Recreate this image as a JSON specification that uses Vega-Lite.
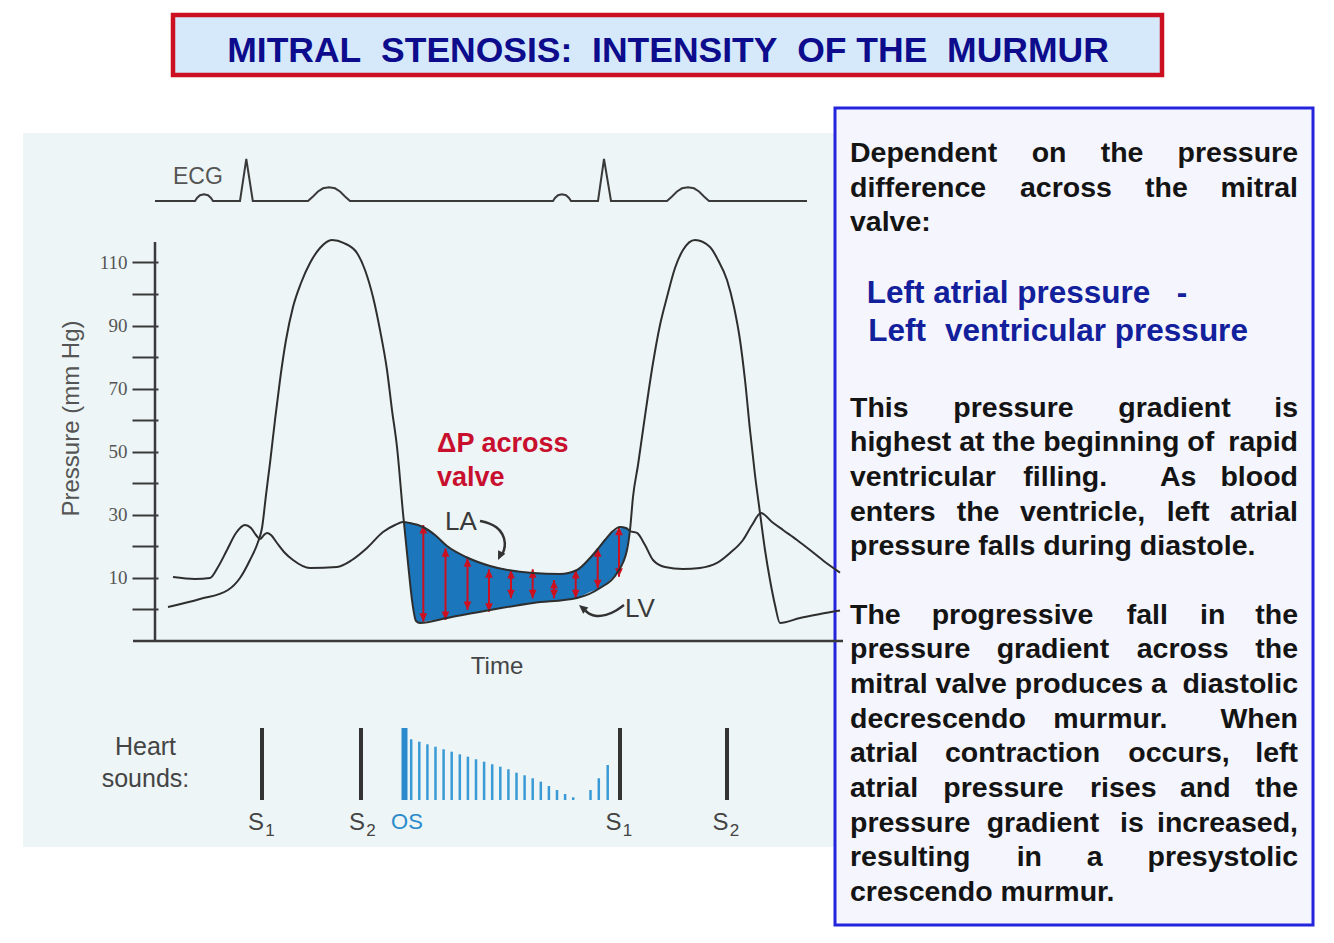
{
  "$schema": "https://vega.github.io/schema/vega-lite/v6.json",
  "width": 1334,
  "height": 943,
  "autosize": {"type": "none"},
  "padding": 0,
  "background": "#ffffff",
  "config": {"view": {"stroke": null}},
  "datasets": {
    "bg": [{"t": -264, "t2": 1470, "p": 151.03, "p2": -75.28}],
    "titlebox": [{"t": 36, "t2": 2014, "p": 188.43, "p2": 169.41}],
    "panel": [{"t": 1360, "t2": 2316, "p": 158.95, "p2": -100.0}],
    "gradient": [
      {"t": 498, "p": 27.73, "p2": 27.73},
      {"t": 504, "p": 27.58, "p2": 17.91},
      {"t": 510, "p": 27.42, "p2": 9.03},
      {"t": 516, "p": 27.10, "p2": 1.43},
      {"t": 522, "p": 26.78, "p2": -3.65},
      {"t": 530, "p": 26.47, "p2": -4.28},
      {"t": 536, "p": 26.15, "p2": -3.96},
      {"t": 560, "p": 23.61, "p2": -3.33},
      {"t": 584, "p": 20.13, "p2": -2.69},
      {"t": 622, "p": 16.64, "p2": -1.43},
      {"t": 670, "p": 13.79, "p2": -0.16},
      {"t": 714, "p": 12.52, "p2": 0.95},
      {"t": 756, "p": 11.57, "p2": 2.06},
      {"t": 800, "p": 11.25, "p2": 2.85},
      {"t": 844, "p": 12.52, "p2": 3.65},
      {"t": 870, "p": 16.32, "p2": 5.55},
      {"t": 890, "p": 20.44, "p2": 6.81},
      {"t": 910, "p": 23.93, "p2": 9.35},
      {"t": 924, "p": 25.20, "p2": 11.57},
      {"t": 934, "p": 25.83, "p2": 14.74},
      {"t": 944, "p": 25.83, "p2": 18.86},
      {"t": 950, "p": 24.88, "p2": 24.88}
    ],
    "gradArrows": [
      {"t": 536.6, "p": 26.78, "p2": -3.87},
      {"t": 581, "p": 19.40, "p2": -3.33},
      {"t": 625, "p": 16.23, "p2": -0.16},
      {"t": 668, "p": 12.74, "p2": -0.70},
      {"t": 712, "p": 12.52, "p2": 3.55},
      {"t": 755.4, "p": 12.74, "p2": 3.55},
      {"t": 798, "p": 9.35, "p2": 3.55},
      {"t": 841.4, "p": 12.52, "p2": 3.55},
      {"t": 885.4, "p": 19.40, "p2": 6.72},
      {"t": 928, "p": 26.24, "p2": 10.40}
    ],
    "headTop": [
      {"t": 536.6, "p": 26.78}, {"t": 581, "p": 19.40}, {"t": 625, "p": 16.23}, {"t": 668, "p": 12.74},
      {"t": 712, "p": 12.52}, {"t": 755.4, "p": 12.74}, {"t": 798, "p": 9.35}, {"t": 841.4, "p": 12.52},
      {"t": 885.4, "p": 19.40}, {"t": 928, "p": 26.24}
    ],
    "headBot": [
      {"t": 536.6, "p": -3.87}, {"t": 581, "p": -3.33}, {"t": 625, "p": -0.16}, {"t": 668, "p": -0.70},
      {"t": 712, "p": 3.55}, {"t": 755.4, "p": 3.55}, {"t": 798, "p": 3.55}, {"t": 841.4, "p": 3.55},
      {"t": 885.4, "p": 6.72}, {"t": 928, "p": 10.40}
    ],
    "pressure": [
      {"curve": "LV", "t": 26, "p": 0.79}, {"curve": "LV", "t": 90, "p": 3.33}, {"curve": "LV", "t": 146, "p": 6.18},
      {"curve": "LV", "t": 170, "p": 9.98}, {"curve": "LV", "t": 190, "p": 15.69}, {"curve": "LV", "t": 206, "p": 21.39},
      {"curve": "LV", "t": 214, "p": 25.83}, {"curve": "LV", "t": 222, "p": 36.29}, {"curve": "LV", "t": 230, "p": 46.43},
      {"curve": "LV", "t": 240, "p": 60.06}, {"curve": "LV", "t": 250, "p": 72.74}, {"curve": "LV", "t": 262, "p": 85.42},
      {"curve": "LV", "t": 276, "p": 95.88}, {"curve": "LV", "t": 292, "p": 103.49}, {"curve": "LV", "t": 310, "p": 109.83},
      {"curve": "LV", "t": 330, "p": 114.58}, {"curve": "LV", "t": 354, "p": 117.12}, {"curve": "LV", "t": 378, "p": 116.16},
      {"curve": "LV", "t": 404, "p": 113.0}, {"curve": "LV", "t": 420, "p": 107.61}, {"curve": "LV", "t": 436, "p": 99.05},
      {"curve": "LV", "t": 450, "p": 88.59}, {"curve": "LV", "t": 464, "p": 75.91}, {"curve": "LV", "t": 474, "p": 63.23},
      {"curve": "LV", "t": 484, "p": 51.51}, {"curve": "LV", "t": 496, "p": 30.59}, {"curve": "LV", "t": 506, "p": 14.74},
      {"curve": "LV", "t": 514, "p": 3.01}, {"curve": "LV", "t": 522, "p": -3.65}, {"curve": "LV", "t": 530, "p": -4.28},
      {"curve": "LV", "t": 584, "p": -2.69}, {"curve": "LV", "t": 670, "p": -0.16}, {"curve": "LV", "t": 756, "p": 2.06},
      {"curve": "LV", "t": 844, "p": 3.65}, {"curve": "LV", "t": 890, "p": 6.81}, {"curve": "LV", "t": 924, "p": 11.57},
      {"curve": "LV", "t": 944, "p": 18.86}, {"curve": "LV", "t": 950, "p": 25.20}, {"curve": "LV", "t": 956, "p": 35.66},
      {"curve": "LV", "t": 966, "p": 45.80}, {"curve": "LV", "t": 976, "p": 56.89}, {"curve": "LV", "t": 996, "p": 78.13},
      {"curve": "LV", "t": 1010, "p": 90.17}, {"curve": "LV", "t": 1024, "p": 99.05}, {"curve": "LV", "t": 1040, "p": 108.24},
      {"curve": "LV", "t": 1056, "p": 113.95}, {"curve": "LV", "t": 1080, "p": 117.12}, {"curve": "LV", "t": 1110, "p": 114.90},
      {"curve": "LV", "t": 1126, "p": 110.78}, {"curve": "LV", "t": 1144, "p": 104.44}, {"curve": "LV", "t": 1158, "p": 95.88},
      {"curve": "LV", "t": 1170, "p": 85.42}, {"curve": "LV", "t": 1180, "p": 72.74}, {"curve": "LV", "t": 1190, "p": 56.89},
      {"curve": "LV", "t": 1200, "p": 42.63}, {"curve": "LV", "t": 1210, "p": 30.59}, {"curve": "LV", "t": 1220, "p": 18.86},
      {"curve": "LV", "t": 1230, "p": 9.35}, {"curve": "LV", "t": 1240, "p": 1.43}, {"curve": "LV", "t": 1250, "p": -4.28},
      {"curve": "LV", "t": 1290, "p": -2.69}, {"curve": "LV", "t": 1330, "p": -1.43}, {"curve": "LV", "t": 1370, "p": -0.3},
      {"curve": "LA", "t": 36, "p": 10.30}, {"curve": "LA", "t": 80, "p": 9.67}, {"curve": "LA", "t": 110, "p": 9.98},
      {"curve": "LA", "t": 126, "p": 13.47}, {"curve": "LA", "t": 144, "p": 18.86}, {"curve": "LA", "t": 162, "p": 24.25},
      {"curve": "LA", "t": 180, "p": 26.78}, {"curve": "LA", "t": 192, "p": 25.83}, {"curve": "LA", "t": 202, "p": 23.61},
      {"curve": "LA", "t": 210, "p": 22.35}, {"curve": "LA", "t": 218, "p": 23.61}, {"curve": "LA", "t": 224, "p": 24.25},
      {"curve": "LA", "t": 232, "p": 23.61}, {"curve": "LA", "t": 244, "p": 21.08}, {"curve": "LA", "t": 260, "p": 17.91},
      {"curve": "LA", "t": 276, "p": 15.69}, {"curve": "LA", "t": 310, "p": 13.15}, {"curve": "LA", "t": 364, "p": 13.47},
      {"curve": "LA", "t": 394, "p": 15.69}, {"curve": "LA", "t": 424, "p": 19.49}, {"curve": "LA", "t": 456, "p": 24.56},
      {"curve": "LA", "t": 480, "p": 26.78}, {"curve": "LA", "t": 496, "p": 27.73}, {"curve": "LA", "t": 510, "p": 27.42},
      {"curve": "LA", "t": 536, "p": 26.15}, {"curve": "LA", "t": 560, "p": 23.61}, {"curve": "LA", "t": 584, "p": 20.13},
      {"curve": "LA", "t": 622, "p": 16.64}, {"curve": "LA", "t": 670, "p": 13.79}, {"curve": "LA", "t": 756, "p": 11.57},
      {"curve": "LA", "t": 810, "p": 11.25}, {"curve": "LA", "t": 844, "p": 12.52}, {"curve": "LA", "t": 870, "p": 16.32},
      {"curve": "LA", "t": 884, "p": 18.86}, {"curve": "LA", "t": 900, "p": 22.03}, {"curve": "LA", "t": 916, "p": 24.88},
      {"curve": "LA", "t": 930, "p": 26.15}, {"curve": "LA", "t": 942, "p": 25.83}, {"curve": "LA", "t": 950, "p": 24.88},
      {"curve": "LA", "t": 964, "p": 24.25}, {"curve": "LA", "t": 980, "p": 20.44}, {"curve": "LA", "t": 996, "p": 15.69},
      {"curve": "LA", "t": 1020, "p": 13.47}, {"curve": "LA", "t": 1056, "p": 12.84}, {"curve": "LA", "t": 1090, "p": 13.15},
      {"curve": "LA", "t": 1124, "p": 14.74}, {"curve": "LA", "t": 1150, "p": 17.91}, {"curve": "LA", "t": 1176, "p": 22.03},
      {"curve": "LA", "t": 1194, "p": 26.78}, {"curve": "LA", "t": 1212, "p": 30.59}, {"curve": "LA", "t": 1234, "p": 27.73},
      {"curve": "LA", "t": 1256, "p": 25.20}, {"curve": "LA", "t": 1284, "p": 22.03}, {"curve": "LA", "t": 1310, "p": 18.86},
      {"curve": "LA", "t": 1340, "p": 15.06}, {"curve": "LA", "t": 1370, "p": 11.7}
    ],
    "ecg": [
      {"t": 0, "p": 129.48}, {"t": 80, "p": 129.48}, {"t": 84, "p": 130.43}, {"t": 90, "p": 131.31}, {"t": 98, "p": 131.60},
      {"t": 106, "p": 131.31}, {"t": 112, "p": 130.43}, {"t": 116, "p": 129.48}, {"t": 170, "p": 129.48}, {"t": 182.6, "p": 142.79},
      {"t": 195.6, "p": 129.48}, {"t": 306, "p": 129.48}, {"t": 316, "p": 130.90}, {"t": 326, "p": 132.49}, {"t": 336, "p": 133.50},
      {"t": 348, "p": 133.82}, {"t": 360, "p": 133.50}, {"t": 370, "p": 132.49}, {"t": 380, "p": 130.90}, {"t": 390, "p": 129.48},
      {"t": 796, "p": 129.48}, {"t": 800, "p": 130.43}, {"t": 806, "p": 131.31}, {"t": 814, "p": 131.60}, {"t": 822, "p": 131.31},
      {"t": 828, "p": 130.43}, {"t": 832, "p": 129.48}, {"t": 886, "p": 129.48}, {"t": 898, "p": 142.79}, {"t": 912, "p": 129.48},
      {"t": 1024, "p": 129.48}, {"t": 1034, "p": 130.90}, {"t": 1044, "p": 132.49}, {"t": 1054, "p": 133.50}, {"t": 1066, "p": 133.82},
      {"t": 1078, "p": 133.50}, {"t": 1088, "p": 132.49}, {"t": 1098, "p": 130.90}, {"t": 1108, "p": 129.48}, {"t": 1304, "p": 129.48}
    ],
    "yaxisline": [{"t": 0, "p": 116.48, "p2": -9.98}],
    "xaxisline": [{"t": -44, "t2": 1376, "p": -9.98}],
    "sounds": [
      {"sound": "S1", "t": 214, "p": -37.56, "p2": -60.38},
      {"sound": "S2", "t": 412, "p": -37.56, "p2": -60.38},
      {"sound": "S1", "t": 930, "p": -37.56, "p2": -60.38},
      {"sound": "S2", "t": 1144, "p": -37.56, "p2": -60.38}
    ],
    "os": [{"sound": "OS", "t": 499, "p": -37.56, "p2": -60.38}],
    "murmur": [
      {"t": 512.4, "p": -41.14, "p2": -60.38}, {"t": 528.6, "p": -41.90, "p2": -60.38}, {"t": 544.8, "p": -42.73, "p2": -60.38},
      {"t": 561, "p": -43.49, "p2": -60.38}, {"t": 577.2, "p": -44.31, "p2": -60.38}, {"t": 593.4, "p": -45.07, "p2": -60.38},
      {"t": 609.6, "p": -45.90, "p2": -60.38}, {"t": 625.8, "p": -46.66, "p2": -60.38}, {"t": 642, "p": -47.48, "p2": -60.38},
      {"t": 658.2, "p": -48.24, "p2": -60.38}, {"t": 674.4, "p": -49.06, "p2": -60.38}, {"t": 690.6, "p": -49.83, "p2": -60.38},
      {"t": 706.8, "p": -50.65, "p2": -60.38}, {"t": 723, "p": -51.73, "p2": -60.38}, {"t": 739.2, "p": -52.55, "p2": -60.38},
      {"t": 755.4, "p": -53.50, "p2": -60.38}, {"t": 771.6, "p": -54.58, "p2": -60.38}, {"t": 787.8, "p": -55.94, "p2": -60.38},
      {"t": 804, "p": -57.21, "p2": -60.38}, {"t": 820.2, "p": -58.48, "p2": -60.38}, {"t": 836.4, "p": -59.52, "p2": -60.38},
      {"t": 871, "p": -57.21, "p2": -60.38}, {"t": 887.6, "p": -53.50, "p2": -60.38}, {"t": 905.4, "p": -49.29, "p2": -60.38}
    ],
    "curvedArrows": [
      {"a": "LA", "i": 1, "t": 650, "p": 28.05}, {"a": "LA", "i": 2, "t": 668, "p": 27.42}, {"a": "LA", "i": 3, "t": 684, "p": 26.15},
      {"a": "LA", "i": 4, "t": 696, "p": 23.93}, {"a": "LA", "i": 5, "t": 701, "p": 21.0}, {"a": "LA", "i": 6, "t": 698, "p": 18.6},
      {"a": "LA", "i": 7, "t": 694, "p": 17.5},
      {"a": "LV", "i": 1, "t": 938, "p": 1.43}, {"a": "LV", "i": 2, "t": 922, "p": -0.48}, {"a": "LV", "i": 3, "t": 902, "p": -1.90},
      {"a": "LV", "i": 4, "t": 882, "p": -2.22}, {"a": "LV", "i": 5, "t": 868, "p": -1.43}, {"a": "LV", "i": 6, "t": 861, "p": -0.38}
    ],
    "laHead": [{"t": 686, "p": 15.69}],
    "lvHead": [{"t": 848, "p": 1.43}],
    "txtRed": [{"t": 564, "p": 49.92, "w": "ΔP across"}, {"t": 564, "p": 39.30, "w": "valve"}],
    "txtLALV": [{"t": 580, "p": 25.20, "w": "LA"}, {"t": 940, "p": -2.38, "w": "LV"}],
    "txtECG": [{"t": 36, "p": 134.87, "w": "ECG"}],
    "txtTime": [{"t": 684, "p": -20.44, "w": "Time"}],
    "txtPressure": [{"t": -166, "p": 60.54, "w": "Pressure (mm Hg)"}],
    "txtHeart": [{"t": -19, "p": -46.12, "w": "Heart"}, {"t": -19, "p": -56.26, "w": "sounds:"}],
    "txtS": [{"t": 202, "p": -69.89, "w": "S"}, {"t": 404, "p": -69.89, "w": "S"}, {"t": 917, "p": -69.89, "w": "S"}, {"t": 1131, "p": -69.89, "w": "S"}],
    "txtSub": [{"t": 230, "p": -71.8, "w": "1"}, {"t": 432, "p": -71.8, "w": "2"}, {"t": 945, "p": -71.8, "w": "1"}, {"t": 1159, "p": -71.8, "w": "2"}],
    "txtOS": [{"t": 504, "p": -69.57, "w": "OS"}],
    "txtTitle": [{"t": 1026, "p": 173.4, "w": "MITRAL\u00a0 STENOSIS:\u00a0 INTENSITY\u00a0 OF THE\u00a0 MURMUR"}],
    "panelBlue": [
      {"t": 1423.4, "p": 97.24, "w": "Left atrial pressure"},
      {"t": 2043.4, "p": 97.24, "w": "-"},
      {"t": 1426.6, "p": 85.20, "w": "Left"},
      {"t": 1580, "p": 85.20, "w": "ventricular pressure"}
    ],
    "panelL": [
      {"t": 1390, "p": 141.84, "w": "Dependent"}, {"t": 1753.4, "p": 141.84, "w": "on"}, {"t": 1891.4, "p": 141.84, "w": "the"},
      {"t": 1390, "p": 130.87, "w": "difference"}, {"t": 1730, "p": 130.87, "w": "across"}, {"t": 1980, "p": 130.87, "w": "the"},
      {"t": 1390, "p": 119.87, "w": "valve:"},
      {"t": 1390, "p": 61.08, "w": "This"}, {"t": 1596.6, "p": 61.08, "w": "pressure"}, {"t": 1926.6, "p": 61.08, "w": "gradient"},
      {"t": 1390, "p": 50.11, "w": "highest at the beginning of"},
      {"t": 1390, "p": 39.14, "w": "ventricular"}, {"t": 1736.6, "p": 39.14, "w": "filling."}, {"t": 2010, "p": 39.14, "w": "As"},
      {"t": 1390, "p": 28.15, "w": "enters"}, {"t": 1603.4, "p": 28.15, "w": "the"}, {"t": 1730, "p": 28.15, "w": "ventricle,"}, {"t": 2023.4, "p": 28.15, "w": "left"},
      {"t": 1390, "p": 17.18, "w": "pressure falls during diastole."},
      {"t": 1390, "p": -4.53, "w": "The"}, {"t": 1553.4, "p": -4.53, "w": "progressive"}, {"t": 1943.4, "p": -4.53, "w": "fall"}, {"t": 2090, "p": -4.53, "w": "in"},
      {"t": 1390, "p": -15.50, "w": "pressure"}, {"t": 1683.4, "p": -15.50, "w": "gradient"}, {"t": 1963.4, "p": -15.50, "w": "across"},
      {"t": 1390, "p": -26.50, "w": "mitral valve produces a"},
      {"t": 1390, "p": -37.46, "w": "decrescendo"}, {"t": 1796.6, "p": -37.46, "w": "murmur."},
      {"t": 1390, "p": -48.46, "w": "atrial"}, {"t": 1580, "p": -48.46, "w": "contraction"}, {"t": 1946.6, "p": -48.46, "w": "occurs,"},
      {"t": 1390, "p": -59.43, "w": "atrial"}, {"t": 1576.6, "p": -59.43, "w": "pressure"}, {"t": 1870, "p": -59.43, "w": "rises"}, {"t": 2050, "p": -59.43, "w": "and"},
      {"t": 1390, "p": -70.40, "w": "pressure"}, {"t": 1663.4, "p": -70.40, "w": "gradient"}, {"t": 1930, "p": -70.40, "w": "is"},
      {"t": 1390, "p": -81.39, "w": "resulting"}, {"t": 1723.4, "p": -81.39, "w": "in"}, {"t": 1863.4, "p": -81.39, "w": "a"},
      {"t": 1390, "p": -92.36, "w": "crescendo murmur."}
    ],
    "panelR": [
      {"t": 2286, "p": 141.84, "w": "pressure"}, {"t": 2286, "p": 130.87, "w": "mitral"},
      {"t": 2286, "p": 61.08, "w": "is"}, {"t": 2286, "p": 50.11, "w": "rapid"}, {"t": 2286, "p": 39.14, "w": "blood"}, {"t": 2286, "p": 28.15, "w": "atrial"},
      {"t": 2286, "p": -4.53, "w": "the"}, {"t": 2286, "p": -15.50, "w": "the"}, {"t": 2286, "p": -26.50, "w": "diastolic"},
      {"t": 2286, "p": -37.46, "w": "When"}, {"t": 2286, "p": -48.46, "w": "left"}, {"t": 2286, "p": -59.43, "w": "the"},
      {"t": 2286, "p": -70.40, "w": "increased,"}, {"t": 2286, "p": -81.39, "w": "presystolic"}
    ]
  },
  "encoding": {
    "x": {"field": "t", "type": "quantitative", "scale": {"domain": [-310, 2358], "nice": false, "zero": false}, "axis": null},
    "y": {
      "field": "p", "type": "quantitative",
      "scale": {"domain": [-105.71, 193.19], "nice": false, "zero": false},
      "axis": {
        "orient": "left", "offset": -158, "domain": false, "grid": false, "zindex": 2,
        "values": [0, 10, 20, 30, 40, 50, 60, 70, 80, 90, 100, 110],
        "tickSize": 26, "tickWidth": 2, "tickColor": "#3a3a3a",
        "labelExpr": "datum.value % 20 == 10 ? datum.label : ''",
        "labelFont": "Liberation Serif", "labelFontSize": 19, "labelColor": "#555555",
        "labelPadding": 5, "labelOverlap": false, "labelBound": false, "title": null
      }
    }
  },
  "layer": [
    {"data": {"name": "bg"}, "mark": {"type": "rect", "fill": "#edf5f6"}, "encoding": {"x2": {"field": "t2"}, "y2": {"field": "p2"}}},
    {"data": {"name": "titlebox"}, "mark": {"type": "rect", "fill": "#d6e9fb", "stroke": "#cc1022", "strokeWidth": 4.5}, "encoding": {"x2": {"field": "t2"}, "y2": {"field": "p2"}}},
    {"data": {"name": "panel"}, "mark": {"type": "rect", "fill": "#f5f6fd", "stroke": "#2424dc", "strokeWidth": 3}, "encoding": {"x2": {"field": "t2"}, "y2": {"field": "p2"}}},
    {"data": {"name": "gradient"}, "mark": {"type": "area", "interpolate": "monotone", "fill": "#1c76bc", "opacity": 1}, "encoding": {"y2": {"field": "p2"}}},
    {"data": {"name": "gradArrows"}, "mark": {"type": "rule", "color": "#cc1020", "strokeWidth": 2}, "encoding": {"y2": {"field": "p2"}}},
    {"data": {"name": "headTop"}, "mark": {"type": "point", "shape": "M0,0L-1,2.2L1,2.2Z", "filled": true, "size": 60, "color": "#cc1020", "opacity": 1, "strokeWidth": 0}},
    {"data": {"name": "headBot"}, "mark": {"type": "point", "shape": "M0,0L-1,-2.2L1,-2.2Z", "filled": true, "size": 60, "color": "#cc1020", "opacity": 1, "strokeWidth": 0}},
    {"data": {"name": "pressure"}, "mark": {"type": "line", "interpolate": "monotone", "color": "#2e2e2e", "strokeWidth": 2}, "encoding": {"detail": {"field": "curve"}}},
    {"data": {"name": "ecg"}, "mark": {"type": "line", "color": "#3a3a3a", "strokeWidth": 2}},
    {"data": {"name": "yaxisline"}, "mark": {"type": "rule", "color": "#3a3a3a", "strokeWidth": 2.5}, "encoding": {"y2": {"field": "p2"}}},
    {"data": {"name": "xaxisline"}, "mark": {"type": "rule", "color": "#3a3a3a", "strokeWidth": 2.5}, "encoding": {"x2": {"field": "t2"}}},
    {"data": {"name": "sounds"}, "mark": {"type": "rule", "color": "#333333", "strokeWidth": 4, "strokeCap": "butt"}, "encoding": {"y2": {"field": "p2"}}},
    {"data": {"name": "os"}, "mark": {"type": "rule", "color": "#2b8acb", "strokeWidth": 6, "strokeCap": "butt"}, "encoding": {"y2": {"field": "p2"}}},
    {"data": {"name": "murmur"}, "mark": {"type": "rule", "color": "#3a9ad6", "strokeWidth": 2.5, "strokeCap": "butt"}, "encoding": {"y2": {"field": "p2"}}},
    {"data": {"name": "curvedArrows"}, "mark": {"type": "line", "interpolate": "basis", "color": "#333333", "strokeWidth": 2.5}, "encoding": {"detail": {"field": "a"}, "order": {"field": "i", "type": "quantitative"}}},
    {"data": {"name": "laHead"}, "mark": {"type": "point", "shape": "M0,0L-1,-2.2L1,-2.2Z", "filled": true, "size": 64, "angle": 25, "color": "#333333", "opacity": 1, "strokeWidth": 0}},
    {"data": {"name": "lvHead"}, "mark": {"type": "point", "shape": "M0,0L-1,2.2L1,2.2Z", "filled": true, "size": 64, "angle": -50, "color": "#333333", "opacity": 1, "strokeWidth": 0}},
    {"data": {"name": "txtRed"}, "mark": {"type": "text", "align": "left", "baseline": "alphabetic", "font": "Liberation Sans", "fontWeight": "bold", "fontSize": 27, "color": "#c8102e"}, "encoding": {"text": {"field": "w"}}},
    {"data": {"name": "txtLALV"}, "mark": {"type": "text", "align": "left", "baseline": "alphabetic", "font": "Liberation Sans", "fontSize": 26, "color": "#3a3a3a"}, "encoding": {"text": {"field": "w"}}},
    {"data": {"name": "txtECG"}, "mark": {"type": "text", "align": "left", "baseline": "alphabetic", "font": "Liberation Sans", "fontSize": 23, "color": "#555555"}, "encoding": {"text": {"field": "w"}}},
    {"data": {"name": "txtTime"}, "mark": {"type": "text", "align": "center", "baseline": "alphabetic", "font": "Liberation Sans", "fontSize": 24, "color": "#444444"}, "encoding": {"text": {"field": "w"}}},
    {"data": {"name": "txtPressure"}, "mark": {"type": "text", "align": "center", "baseline": "middle", "angle": 270, "font": "Liberation Sans", "fontSize": 24, "color": "#555555"}, "encoding": {"text": {"field": "w"}}},
    {"data": {"name": "txtHeart"}, "mark": {"type": "text", "align": "center", "baseline": "alphabetic", "font": "Liberation Sans", "fontSize": 25, "color": "#444444"}, "encoding": {"text": {"field": "w"}}},
    {"data": {"name": "txtS"}, "mark": {"type": "text", "align": "center", "baseline": "alphabetic", "font": "Liberation Sans", "fontSize": 24, "color": "#444444"}, "encoding": {"text": {"field": "w"}}},
    {"data": {"name": "txtSub"}, "mark": {"type": "text", "align": "center", "baseline": "alphabetic", "font": "Liberation Sans", "fontSize": 17, "color": "#444444"}, "encoding": {"text": {"field": "w"}}},
    {"data": {"name": "txtOS"}, "mark": {"type": "text", "align": "center", "baseline": "alphabetic", "font": "Liberation Sans", "fontSize": 22, "color": "#2b8acb"}, "encoding": {"text": {"field": "w"}}},
    {"data": {"name": "txtTitle"}, "mark": {"type": "text", "align": "center", "baseline": "alphabetic", "font": "Liberation Sans", "fontWeight": "bold", "fontSize": 35.5, "color": "#0c0c8c"}, "encoding": {"text": {"field": "w"}}},
    {"data": {"name": "panelBlue"}, "mark": {"type": "text", "align": "left", "baseline": "alphabetic", "font": "Liberation Sans", "fontWeight": "bold", "fontSize": 31.5, "color": "#12209c"}, "encoding": {"text": {"field": "w"}}},
    {"data": {"name": "panelL"}, "mark": {"type": "text", "align": "left", "baseline": "alphabetic", "font": "Liberation Sans", "fontWeight": "bold", "fontSize": 28.5, "color": "#141414"}, "encoding": {"text": {"field": "w"}}},
    {"data": {"name": "panelR"}, "mark": {"type": "text", "align": "right", "baseline": "alphabetic", "font": "Liberation Sans", "fontWeight": "bold", "fontSize": 28.5, "color": "#141414"}, "encoding": {"text": {"field": "w"}}}
  ]
}
